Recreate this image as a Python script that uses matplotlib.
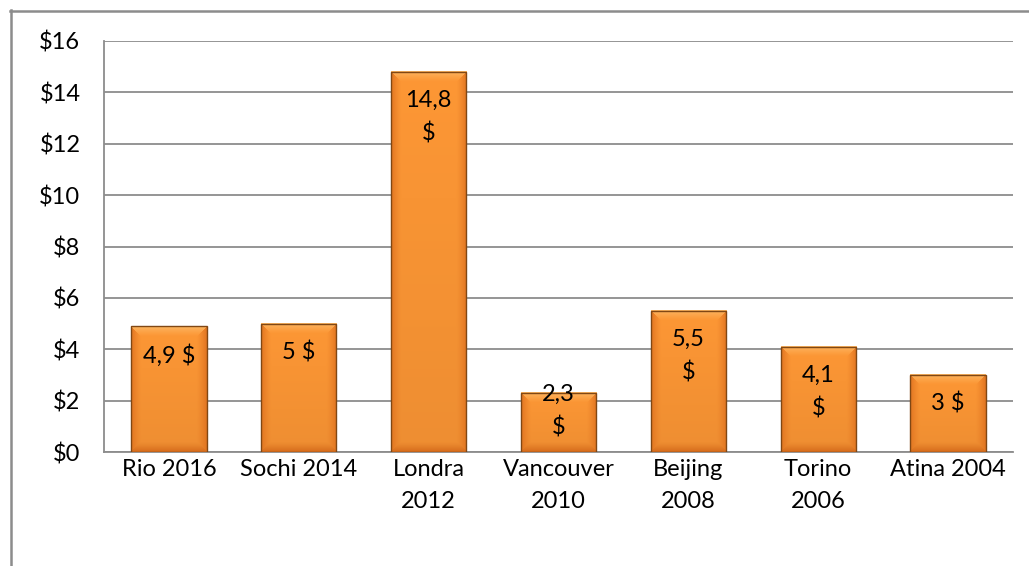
import numpy as np
import matplotlib
matplotlib.use("Agg")
import matplotlib.pyplot as plt
from matplotlib.lines import Line2D

categories = ["Rio 2016", "Sochi 2014", "Londra\n2012", "Vancouver\n2010",
              "Beijing\n2008", "Torino\n2006", "Atina 2004"]
values = [4.9, 5.0, 14.8, 2.3, 5.5, 4.1, 3.0]
bar_labels = ["4,9 $", "5 $", "14,8\n$", "2,3\n$", "5,5\n$", "4,1\n$", "3 $"]
y_ticks = [0, 2, 4, 6, 8, 10, 12, 14, 16]
y_tick_labels = ["$0", "$2", "$4", "$6", "$8", "$10", "$12", "$14", "$16"]

W, H, DPI = 1029, 566, 100
plt.rcParams['font.family'] = ['Lato', 'DejaVu Sans']
FS = 17
LS = 1.65

fig = plt.figure(figsize=(W / DPI, H / DPI), dpi=DPI)
ax = fig.add_axes([104 / W, 1 - 452 / H, (1013 - 104) / W, (452 - 41) / H])

grid_c = "#8c8c8c"
ax.set_xlim(-0.5, len(categories) - 0.5)
ax.set_ylim(0, 16)
ax.set_yticks(y_ticks)
ax.set_yticklabels(y_tick_labels, fontsize=FS)
ax.set_xticks(range(len(categories)))
ax.set_xticklabels(categories, fontsize=FS, linespacing=LS)
ax.tick_params(axis='y', length=0, pad=17)
ax.tick_params(axis='x', length=0, pad=5)
for s in ["top", "right"]:
    ax.spines[s].set_visible(False)
for s in ["left", "bottom"]:
    ax.spines[s].set_color(grid_c)
    ax.spines[s].set_linewidth(1.3)
ax.yaxis.grid(True, color=grid_c, linewidth=1.3, zorder=0)
ax.set_axisbelow(True)

bw = 0.58
px_per_x = (1013 - 104) / len(categories)
px_per_y = (452 - 41) / 16.0

base = np.array([248, 148, 52]) / 255
top_c = np.array([253, 182, 98]) / 255
side_c = np.array([226, 118, 34]) / 255
bot_c = np.array([214, 108, 28]) / 255
edge_c = (0.50, 0.28, 0.08)

for i, v in enumerate(values):
    wpx = int(round(bw * px_per_x))
    hpx = max(int(round(v * px_per_y)), 2)
    yy, xx = np.mgrid[0:hpx, 0:wpx].astype(float)
    dl = xx
    dr = wpx - 1 - xx
    dt = yy
    db = hpx - 1 - yy
    b = 10.0
    t = yy / max(hpx - 1, 1)
    main = base[None, None, :] * (1.02 - 0.06 * t[..., None])
    m = np.minimum(np.minimum(dl, dr), np.minimum(dt, db))
    w = np.clip(1 - m / b, 0, 1) ** 1.3
    which = np.argmin(np.stack([dt, db, dl, dr]), axis=0)
    cols = np.stack([top_c, bot_c, side_c, side_c])
    colimg = cols[which]
    img = main * (1 - w[..., None]) + colimg * w[..., None]
    img = np.clip(img, 0, 1)
    x0, x1 = i - bw / 2, i + bw / 2
    ax.imshow(img, extent=[x0, x1, 0, v], aspect='auto', zorder=3,
              interpolation='bilinear', origin='upper')
    ax.add_patch(plt.Rectangle((x0, 0), bw, v, fill=False, edgecolor=edge_c,
                               linewidth=1.0, zorder=4))
    # label: inside end, clamped so it stays above the base
    nlines = bar_labels[i].count("\n") + 1
    block = nlines * 30 + 8
    top_off = 18
    bar_px = v * px_per_y
    if top_off + block > bar_px:
        top_off = bar_px - block
    ax.annotate(bar_labels[i], xy=(i, v), xytext=(0, -top_off * 72 / DPI),
                textcoords='offset points', ha='center', va='top',
                fontsize=FS, linespacing=LS, zorder=5, color='black')

ax.set_xlim(-0.5, len(categories) - 0.5)
ax.set_ylim(0, 16)

bc = "#8c8c8c"
fig.add_artist(Line2D([10 / W, 1], [1 - 10.5 / H] * 2, color=bc, linewidth=1.8,
                      transform=fig.transFigure))
fig.add_artist(Line2D([10.5 / W] * 2, [1 - 10 / H, 0], color=bc, linewidth=1.8,
                      transform=fig.transFigure))

fig.savefig("out.png", dpi=DPI)
